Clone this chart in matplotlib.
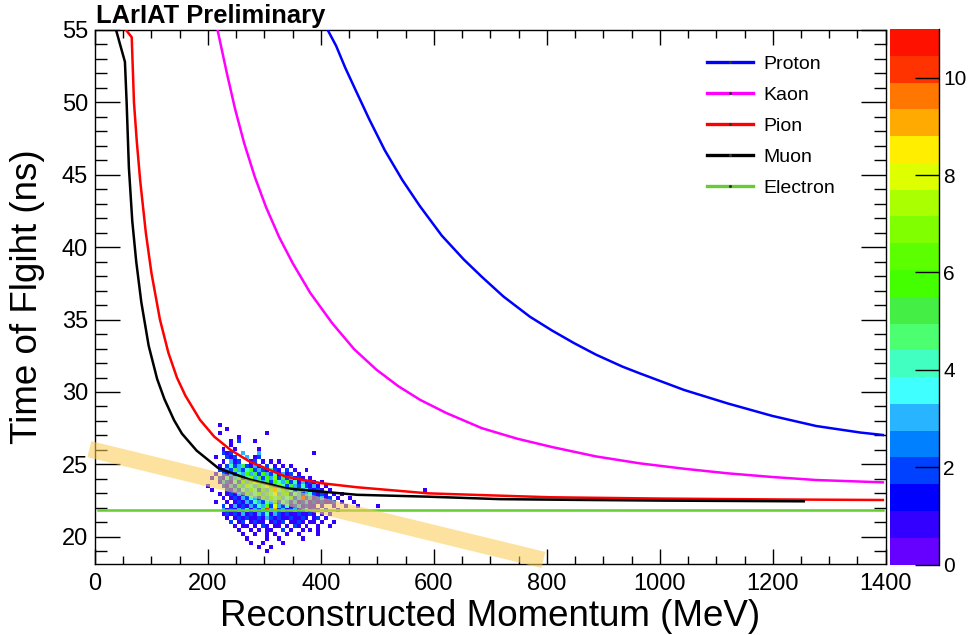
import numpy as np
import matplotlib
matplotlib.use("Agg")
import matplotlib.pyplot as plt
from matplotlib.colors import ListedColormap, BoundaryNorm
from matplotlib.lines import Line2D
from matplotlib.ticker import MultipleLocator

plt.rcParams["font.family"] = ["Liberation Sans", "DejaVu Sans"]

# ---------------------------------------------------------------------------
# Expected time of flight vs. reconstructed momentum for each particle species
# ---------------------------------------------------------------------------
proton_p = [405, 412, 427, 443, 462, 486, 513, 544, 575, 614, 653, 685, 723,
            770, 809, 848, 887, 934, 965, 1043, 1121, 1199, 1277, 1355, 1395]
proton_t = [55.9, 55.0, 53.9, 52.4, 50.8, 48.8, 46.7, 44.65, 42.85, 40.8,
            39.15, 37.95, 36.6, 35.2, 34.25, 33.38, 32.58, 31.75, 31.28,
            30.14, 29.2, 28.35, 27.65, 27.2, 27.03]

kaon_p = [210, 217, 233, 248, 264, 283, 303, 326, 350, 381, 420, 459, 498,
          537, 576, 622, 685, 747, 809, 887, 965, 1043, 1121, 1199, 1277, 1395]
kaon_t = [56.2, 55.0, 52.1, 49.55, 47.2, 44.85, 42.75, 40.7, 38.9, 36.85,
          34.75, 32.95, 31.55, 30.4, 29.45, 28.55, 27.5, 26.78, 26.2, 25.55,
          25.07, 24.7, 24.38, 24.13, 23.92, 23.76]

pion_p = [47, 65, 69, 74, 80, 90, 100, 115, 130, 145, 160, 186, 211, 240,
          274, 338, 401, 464, 590, 717, 806, 1000, 1200, 1395]
pion_t = [55.4, 54.5, 50.0, 47.3, 44.6, 41.0, 38.2, 35.0, 32.7, 31.0, 29.75,
          28.07, 26.92, 26.0, 25.19, 24.15, 23.7, 23.42, 23.0, 22.84, 22.73,
          22.64, 22.58, 22.54]

muon_p = [33, 53, 56, 60, 66, 73, 82, 95, 110, 123, 140, 154, 180, 218, 274,
          338, 401, 464, 590, 717, 850, 1000, 1255]
muon_t = [55.6, 52.8, 50.0, 45.5, 41.8, 39.0, 36.2, 33.2, 30.9, 29.5, 28.05,
          27.12, 25.95, 24.75, 23.95, 23.35, 23.12, 22.9, 22.77, 22.6, 22.55,
          22.5, 22.45]

electron_p = [5, 1395]
electron_t = [21.85, 21.85]

# ---------------------------------------------------------------------------
# Beam data: counts per (momentum, TOF) bin. '.' = empty, hex digit = count.
# Rows go from the highest TOF bin downwards.
# ---------------------------------------------------------------------------
hist_p_lo, hist_dp = 189.0, 7.0
hist_t_hi, hist_dt = 27.86, 0.28
hist_rows = [
    "....1",
    "......1",
    "....1...........1",
    ".........1",
    ".......1.2...1",
    ".......1",
    ".....1..1.....1",
    ".....212..3...3.............1",
    "...1..212..3.12",
    ".....1.312..12.1.1.1",
    "....1.242352131.2.1.1.1",
    "....2132532462321421.2.1..1",
    "...1.213243635263241312.1",
    "..1.2142352473526372523121.1",
    "....1321426358435264362413121.1",
    ".1...2132537436485374253242131.1",
    "..1...2132436425379463425342121.1",
    "....1.12132534635483562432342121.1.1",
    ".....1.121324325364534523a2312312.1..1",
    "...1..1.12132432435243231231212112.1..1",
    ".....2.1312132436283241231211.1..1..1..1....1",
    ".....31213241325a3923123124121.2..1",
    ".....121213121324132121121121.1.1",
    "......1.1212112132121121121.12.1",
    ".......2.12.1211.1212.1121.11.1..1",
    "........1.11.1.21.11.1.21.1..1..1",
    ".........1..1.1.11..2.1..1.1.1",
    "..........1..1..1.1..1..1....1",
    "...........1....1..1.....1",
    "............1..1....1",
    "..............1..1",
    "................1",
]
stray_p = [584.0]
stray_t = [23.25]
stray_n = [1]

# hand-drawn highlight band, end points in (MeV, ns)
band_p = [-10, 794]
band_t = [26.05, 18.4]

# 20-level palette, lowest level first
palette = ["#6600ff", "#3300ff", "#0000ff", "#0040ff", "#0080ff", "#28b4ff",
           "#40ffff", "#40ffc0", "#4cff70", "#44ee44", "#44ff00", "#5cff00",
           "#80ff00", "#aaff00", "#ddff00", "#ffee00", "#ffaa00", "#ff7700",
           "#ff3300", "#ff1100"]
z_max = 11
cbar_ticks = [0, 2, 4, 6, 8, 10]

# --- build the count matrix ---
n_rows = len(hist_rows)
n_cols = max(max(len(r) for r in hist_rows),
             int((max(stray_p) - hist_p_lo) // hist_dp) + 1)
counts = np.zeros((n_rows, n_cols))
for i, row in enumerate(hist_rows):
    for j, ch in enumerate(row):
        if ch != ".":
            counts[i, j] = int(ch, 16)
for p, t, n in zip(stray_p, stray_t, stray_n):
    counts[int((hist_t_hi - t) // hist_dt), int((p - hist_p_lo) // hist_dp)] += n
p_edges = hist_p_lo + hist_dp * np.arange(n_cols + 1)
t_edges = hist_t_hi - hist_dt * np.arange(n_rows + 1)

cmap = ListedColormap(palette)
norm = BoundaryNorm(np.linspace(0, z_max, len(palette) + 1), cmap.N)

# --- figure ---
W, H = 971, 635
fig = plt.figure(figsize=(W / 100, H / 100), dpi=100)
ax = fig.add_axes([95 / W, 1 - 564.3 / H, 790.7 / W, 534.3 / H])

mesh = ax.pcolormesh(p_edges, t_edges, np.ma.masked_equal(counts, 0),
                     cmap=cmap, norm=norm, zorder=1)

curves = [
    (proton_p, proton_t, "#0000ff", "Proton"),
    (kaon_p, kaon_t, "#ff00ff", "Kaon"),
    (pion_p, pion_t, "#ff0000", "Pion"),
    (muon_p, muon_t, "#000000", "Muon"),
    (electron_p, electron_t, "#66cc33", "Electron"),
]
handles = []
for p, t, col, name in curves:
    ax.plot(p, t, color=col, lw=1.8, zorder=3)
    handles.append(Line2D([], [], color=col, lw=2.4, marker=".", ms=2.5,
                          mfc="#333333", mec="#333333", label=name))

ax.plot(band_p, band_t, color="#facc52", alpha=0.56, lw=11.9,
        solid_capstyle="butt", clip_on=False, zorder=4)

ax.set_xlim(0, 1400)
ax.set_ylim(18.1, 55)
ax.xaxis.set_major_locator(MultipleLocator(200))
ax.xaxis.set_minor_locator(MultipleLocator(50))
ax.yaxis.set_major_locator(MultipleLocator(5))
ax.yaxis.set_minor_locator(MultipleLocator(1))
ax.tick_params(axis="x", which="major", direction="in", length=10.8, width=1,
               top=True, labelsize=17, pad=6)
ax.tick_params(axis="x", which="minor", direction="in", length=5.5, width=1,
               top=True)
ax.tick_params(axis="y", which="major", direction="in", length=18, width=1,
               right=True, labelsize=17, pad=5)
ax.tick_params(axis="y", which="minor", direction="in", length=8.6, width=1,
               right=True)
for s in ax.spines.values():
    s.set_linewidth(1)

ax.legend(handles=handles, loc="upper left", bbox_to_anchor=(0.774, 0.953),
          frameon=False, fontsize=14, handlelength=2.37, handletextpad=0.52,
          labelspacing=0.69, borderpad=0, borderaxespad=0)

fig.text(490.4 / W, 1 - 626 / H, "Reconstructed Momentum (MeV)",
         fontsize=26.5, ha="center", va="baseline")
fig.text(37 / W, 1 - 296.5 / H, "Time of Flgiht (ns)", fontsize=26.5,
         rotation=90, rotation_mode="anchor", ha="center", va="baseline")
fig.text(96 / W, 1 - 23.5 / H, "LArIAT Preliminary", fontsize=18.4,
         fontweight="bold", va="baseline")

# --- colour scale ---
cax = fig.add_axes([890 / W, 1 - 564.6 / H, 49 / W, 535.6 / H])
cb = fig.colorbar(mesh, cax=cax, ticks=cbar_ticks)
cb.outline.set_visible(False)
cax.spines["right"].set_visible(True)
cax.spines["right"].set_linewidth(1)
cax.minorticks_off()
cax.tick_params(direction="in", length=17, width=1, labelsize=15, pad=3)

fig.savefig("out.png", dpi=100)
